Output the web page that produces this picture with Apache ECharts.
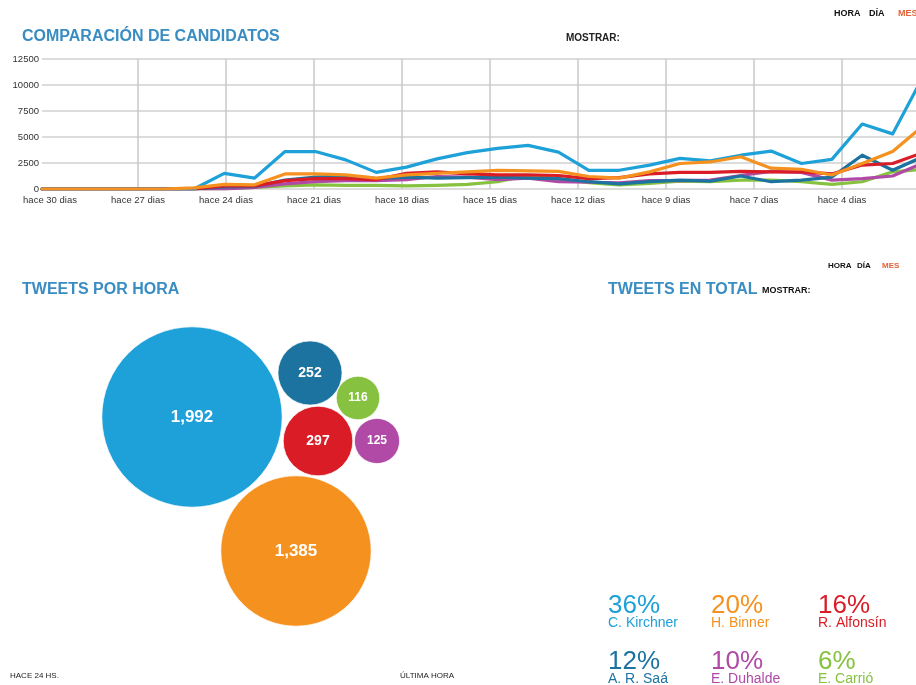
<!DOCTYPE html>
<html>
<head>
<meta charset="utf-8">
<title>Comparación de candidatos</title>
<script src="https://cdn.jsdelivr.net/npm/echarts@6/dist/echarts.min.js"></script>
<style>
  html, body { margin: 0; padding: 0; background: #fff; }
  #main { width: 916px; height: 685px; }
</style>
</head>
<body>
<div id="main"></div>
<script>
// candidates, in the order of the totals panel
const candidates = ['C. Kirchner', 'H. Binner', 'R. Alfonsín', 'A. R. Saá', 'E. Duhalde', 'E. Carrió'];
const colors = ['#1ea0d8', '#f5911e', '#d91c26', '#1c73a0', '#b04aa6', '#86c240'];
const sharePct = [36, 20, 16, 12, 10, 6];
const tweetsPerHour = [1992, 1385, 297, 252, 125, 116];

// packed bubble centres, in units of the hidden bubble grid
const bubbleX = [192, 296, 318, 310, 377, 358];
const bubbleY = [117, 251, 141, 73, 141, 98];

// tick labels of the time axis (blank ends sit outside the plot)
const dayTicks = ['', 'hace 30 dias', 'hace 27 dias', 'hace 24 dias', 'hace 21 dias', 'hace 18 dias',
  'hace 15 dias', 'hace 12 dias', 'hace 9 dias', 'hace 7 dias', 'hace 4 dias', ''];
const yTicks = [0, 2500, 5000, 7500, 10000, 12500];

// daily tweet counts, 30 points
const kirchner = [0, 0, 0, 0, 0, 0, 1500, 1050, 3600, 3600, 2800, 1600, 2100, 2900, 3500,
  3900, 4200, 3550, 1800, 1800, 2300, 2950, 2700, 3250, 3650, 2450, 2850, 6250, 5300, 10800];
const binner = [0, 0, 0, 0, 0, 100, 450, 400, 1450, 1450, 1350, 1050, 1350, 1500, 1650,
  1800, 1750, 1700, 1200, 1050, 1650, 2450, 2600, 3100, 2000, 1900, 1350, 2450, 3600, 6050];
const alfonsin = [0, 0, 0, 0, 0, 0, 300, 300, 800, 1000, 1000, 900, 1500, 1650, 1450,
  1350, 1350, 1300, 1000, 1100, 1450, 1600, 1600, 1700, 1650, 1650, 1450, 2300, 2450, 3500];
const saa = [0, 0, 0, 0, 0, 0, 200, 250, 850, 1150, 1250, 1000, 1150, 1050, 1100,
  1150, 1050, 1000, 700, 500, 700, 850, 750, 1250, 700, 850, 1150, 3250, 1800, 3100];
const duhalde = [0, 0, 0, 0, 0, 0, 0, 150, 500, 700, 800, 800, 900, 1200, 1150,
  900, 1050, 700, 650, 600, 800, 800, 850, 1300, 1700, 1600, 850, 1000, 1250, 2500];
const carrio = [0, 0, 0, 0, 0, 0, 0, 150, 300, 400, 350, 350, 300, 350, 450,
  700, 1300, 1000, 600, 400, 550, 750, 700, 850, 850, 700, 450, 700, 1650, 1900];

const lineData = [kirchner, binner, alfonsin, saa, duhalde, carrio];
const drawOrder = [5, 4, 3, 2, 0, 1];
const FONT = '"Liberation Sans", Arial, sans-serif';

function txt(x, y, text, size, color, weight) {
  return {
    type: 'text', x: x, y: y, silent: true,
    style: {
      text: text, fill: color,
      font: (weight || 'normal') + ' ' + size + 'px ' + FONT,
      textVerticalAlign: 'middle', verticalAlign: 'middle'
    }
  };
}

const texts = [
  txt(22, 37, 'COMPARACIÓN DE CANDIDATOS', 16, '#3a8dc3', 'bold'),
  txt(566, 38, 'MOSTRAR:', 10, '#222', 'bold'),
  txt(834, 14, 'HORA', 9, '#111', 'bold'),
  txt(869, 14, 'DÍA', 9, '#111', 'bold'),
  txt(898, 14, 'MES', 9, '#e0643a', 'bold'),
  txt(828, 266, 'HORA', 8, '#111', 'bold'),
  txt(857, 266, 'DÍA', 8, '#111', 'bold'),
  txt(882, 266, 'MES', 8, '#e0643a', 'bold'),
  txt(22, 290, 'TWEETS POR HORA', 16, '#3a8dc3', 'bold'),
  txt(608, 290, 'TWEETS EN TOTAL', 16, '#3a8dc3', 'bold'),
  txt(762, 291, 'MOSTRAR:', 9, '#111', 'bold'),
  txt(10, 676, 'HACE 24 HS.', 8, '#222'),
  txt(400, 676, 'ÚLTIMA HORA', 8, '#222')
];

const colX = [608, 711, 818];
candidates.forEach(function (name, i) {
  const x = colX[i % 3];
  const row = Math.floor(i / 3);
  texts.push(txt(x, 606 + row * 56, sharePct[i] + '%', 26, colors[i]));
  texts.push(txt(x, 623 + row * 56, name, 14, colors[i]));
});

const chart = echarts.init(document.getElementById('main'), null, { renderer: 'canvas' });

const option = {
  animation: false,
  backgroundColor: '#fff',
  textStyle: { fontFamily: FONT },
  grid: [
    { left: 42, width: 881, top: 59, height: 130, outerBoundsMode: 'none' },
    { left: -38, width: 968, top: 59, height: 130, outerBoundsMode: 'none' },
    { left: 0, top: 300, width: 460, height: 360, outerBoundsMode: 'none' }
  ],
  xAxis: [
    { gridIndex: 0, type: 'category', boundaryGap: false, show: false,
      data: kirchner.map(function (_, i) { return i; }) },
    { gridIndex: 1, type: 'category', boundaryGap: false, data: dayTicks,
      axisLine: { show: false }, axisTick: { show: false },
      axisLabel: { interval: 0, fontSize: 9.5, color: '#333', margin: 6, fontFamily: FONT },
      splitLine: { show: true, interval: function (i) { return i >= 2 && i <= 10; },
        lineStyle: { color: '#c8c8c8', width: 1.5 } } },
    { gridIndex: 2, type: 'value', min: 0, max: 460, show: false }
  ],
  yAxis: [
    { gridIndex: 0, type: 'value', min: yTicks[0], max: yTicks[yTicks.length - 1], interval: 2500,
      axisLine: { show: false }, axisTick: { show: false },
      axisLabel: { fontSize: 9.5, color: '#333', margin: 3, fontFamily: FONT,
        formatter: function (v) { return String(v); } },
      splitLine: { lineStyle: { color: '#d0d0d0', width: 1.5 } } },
    { gridIndex: 1, type: 'value', min: 0, max: 1, show: false },
    { gridIndex: 2, type: 'value', min: 0, max: 360, inverse: true, show: false }
  ],
  graphic: texts,
  series: drawOrder.map(function (i) {
    return {
      name: candidates[i], type: 'line', xAxisIndex: 0, yAxisIndex: 0,
      data: lineData[i], showSymbol: false, smooth: false,
      lineStyle: { color: colors[i], width: 3.2, join: 'round', cap: 'round' },
      itemStyle: { color: colors[i] }
    };
  }).concat([{
    type: 'scatter', xAxisIndex: 2, yAxisIndex: 2,
    data: tweetsPerHour.map(function (v, i) {
      const size = 4.04 * Math.sqrt(v);
      return {
        value: [bubbleX[i], bubbleY[i], v],
        itemStyle: { color: colors[i], opacity: 1, borderColor: 'rgba(255,255,255,0.7)', borderWidth: 1 },
        label: { fontSize: size > 120 ? 17 : (size > 56 ? 14 : 12) }
      };
    }),
    symbolSize: function (val) { return 4.04 * Math.sqrt(val[2]); },
    label: {
      show: true, position: 'inside', color: '#fff', fontWeight: 'bold', fontFamily: FONT,
      formatter: function (p) { return p.value[2].toLocaleString('en-US'); }
    }
  }])
};

chart.setOption(option);
</script>
</body>
</html>
